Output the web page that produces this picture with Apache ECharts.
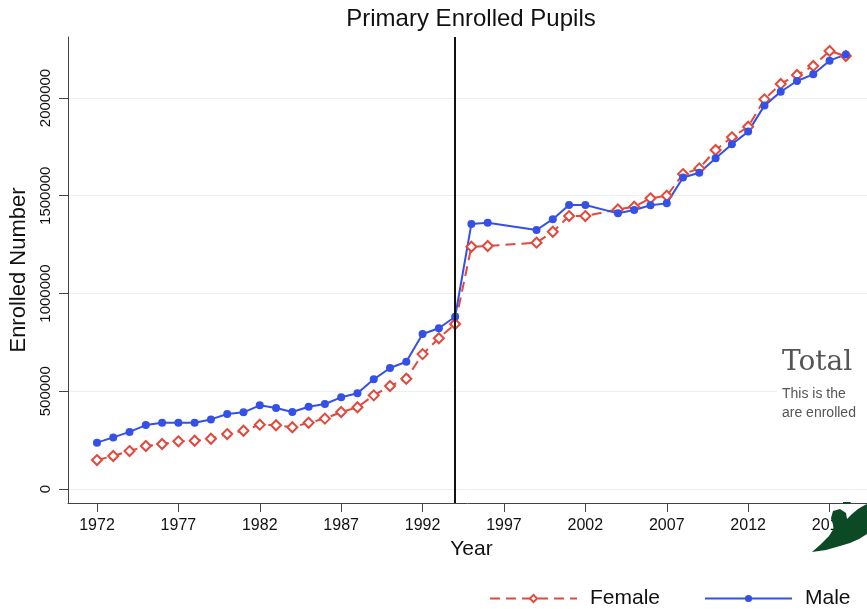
<!DOCTYPE html>
<html>
<head>
<meta charset="utf-8">
<script src="https://cdn.jsdelivr.net/npm/echarts@6/dist/echarts.min.js"></script>
<style>
html,body{margin:0;padding:0;background:#fff;}
#chart{width:867px;height:609px;}
</style>
</head>
<body>
<div id="chart"></div>
<script>
const years = [1972,1973,1974,1975,1976,1977,1978,1979,1980,1981,1982,1983,1984,1985,1986,1987,1988,1989,1990,1991,1992,1993,1994,1995,1996,1999,2000,2001,2002,2004,2005,2006,2007,2008,2009,2010,2011,2012,2013,2014,2015,2016,2017,2018];
const female = [148000,169000,194000,220000,230000,244000,247000,257000,281000,298000,329000,326000,316000,339000,360000,394000,418000,479000,527000,564000,690000,771000,844000,1239000,1243000,1260000,1316000,1396000,1396000,1430000,1444000,1487000,1500000,1611000,1640000,1734000,1799000,1853000,1993000,2072000,2118000,2164000,2240000,2215000];
const male = [237000,264000,292000,327000,339000,339000,339000,356000,384000,392000,428000,414000,394000,421000,435000,469000,490000,561000,619000,651000,793000,822000,881000,1356000,1362000,1325000,1380000,1453000,1453000,1410000,1427000,1451000,1461000,1593000,1618000,1692000,1763000,1828000,1961000,2032000,2087000,2121000,2191000,2223000];
const xTicks = [1972,1977,1982,1987,1992,1997,2002,2007,2012,2017];
const yTicks = [0,500000,1000000,1500000,2000000];
const cutoffYear = 1994;

const chart = echarts.init(document.getElementById('chart'));
const FONT = 'Liberation Sans, Arial, sans-serif';
const pair = arr => years.map((y,i)=>[y, arr[i]]);

chart.setOption({
  animation:false,
  backgroundColor:'#fff',
  textStyle:{fontFamily:FONT},
  grid:{left:68, top:37, right:0, bottom:106},
  xAxis:{
    type:'value', min:1970.22, max:2019.3,
    name:'Year', nameLocation:'middle', nameGap:35,
    nameTextStyle:{fontSize:21, color:'#111', fontFamily:FONT, padding:[0,0,0,8]},
    axisLine:{show:true, onZero:false, lineStyle:{color:'#444', width:1}},
    axisTick:{show:true, length:9, lineStyle:{color:'#444'}, customValues:xTicks},
    axisLabel:{customValues:xTicks, fontSize:16, color:'#111', margin:15, formatter:v=>String(v)},
    splitLine:{show:false}
  },
  yAxis:{
    type:'value', min:-71600, max:2312000,
    name:'Enrolled Number', nameLocation:'middle', nameGap:35,
    nameTextStyle:{fontSize:22, color:'#111', fontFamily:FONT},
    axisLine:{show:true, lineStyle:{color:'#444', width:1}},
    axisTick:{show:true, length:9, lineStyle:{color:'#444'}, customValues:yTicks},
    axisLabel:{customValues:yTicks, rotate:90, fontSize:15, color:'#111', margin:15, formatter:v=>String(v)},
    splitLine:{show:true, lineStyle:{color:'#eceff2', width:1}}
  },
  legend:{
    left:484, top:583, itemWidth:87, itemHeight:9, itemGap:44,
    textStyle:{fontSize:21, color:'#111', fontFamily:FONT, padding:[0,0,0,8]},
    data:['Female','Male']
  },
  series:[
    {
      name:'Female', type:'line', data:pair(female),
      symbol:'emptyDiamond', symbolSize:10,
      lineStyle:{color:'#e2493d', width:2, type:[10,6]},
      itemStyle:{color:'#e2493d', borderColor:'#e2493d', borderWidth:2},
      markLine:{
        silent:true, symbol:['none','none'], label:{show:false},
        lineStyle:{color:'#111', width:2, type:'solid'},
        data:[{xAxis:cutoffYear}]
      }
    },
    {
      name:'Male', type:'line', data:pair(male),
      symbol:'circle', symbolSize:8,
      lineStyle:{color:'#3550e6', width:2},
      itemStyle:{color:'#3550e6'}
    }
  ],
  graphic:[
    {type:'text', x:471, y:19, style:{text:'Primary Enrolled Pupils', font:'24px '+FONT, fill:'#111', textAlign:'center', textVerticalAlign:'middle'}},
    {type:'rect', shape:{x:777, y:340, width:90, height:92}, style:{fill:'#fff'}, z:50},
    {type:'text', x:782, y:363, style:{text:'Total', font:'28px "DejaVu Serif", "Liberation Serif", serif', fill:'#555', textVerticalAlign:'middle'}, z:51},
    {type:'text', x:782, y:394, style:{text:'This is the', font:'14px '+FONT, fill:'#555', textVerticalAlign:'middle'}, z:51},
    {type:'text', x:782, y:413, style:{text:'are enrolled', font:'14px '+FONT, fill:'#555', textVerticalAlign:'middle'}, z:51},
    {type:'polygon', shape:{points:[[812,552],[820,545],[829,536],[834,528],[831,518],[833,511],[840,509],[846,513],[847,519],[852,514],[858,509],[863,506],[867,504],[867,534],[859,539],[850,543],[840,546],[826,550]]}, style:{fill:'#0b4a24'}, z:60},
    {type:'polygon', shape:{points:[[843,502],[851,502],[850,504],[843,504]]}, style:{fill:'#0b4a24'}, z:60}
  ]
});
</script>
</body>
</html>
